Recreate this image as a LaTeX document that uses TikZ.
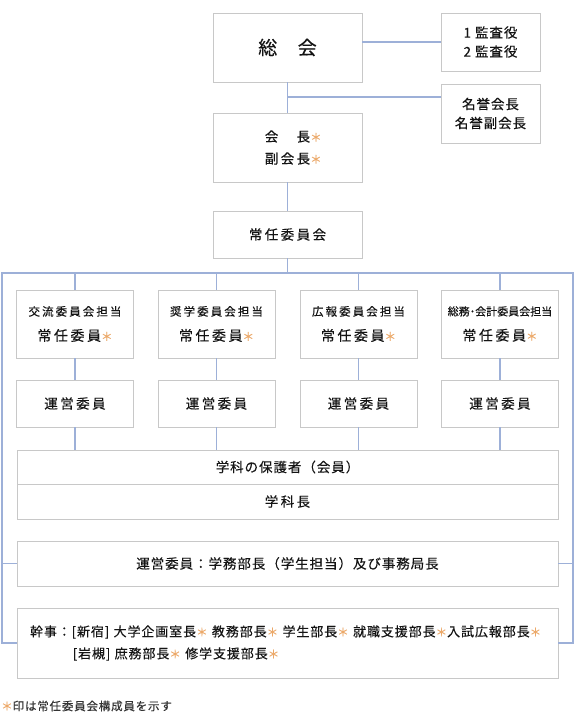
\documentclass[tikz,border=0pt]{standalone}
\usepackage{fontspec}
\setmainfont[FakeBold=0.3]{Noto Sans CJK JP}
\newfontfamily\jpw[LetterSpace=18, FakeBold=0.3]{Noto Sans CJK JP}
\newfontfamily\jpn[LetterSpace=7, FakeBold=0.3]{Noto Sans CJK JP}
\newfontfamily\jpk[LetterSpace=7, FakeBold=0.3]{Noto Sans CJK JP}
\newfontfamily\jpz[FakeBold=0.3]{Noto Sans CJK JP}
\usetikzlibrary{calc}
\usetikzlibrary{shadows}
\definecolor{linecol}{RGB}{157,176,216}
\definecolor{boxcol}{RGB}{200,200,200}
\definecolor{komecol}{RGB}{236,168,104}
\definecolor{txtcol}{RGB}{20,20,20}
\newcommand{\kome}{{\color{komecol}\fontsize{11.5}{11}\selectfont ＊}}
\tikzset{
  box/.style={draw=boxcol, line width=0.9pt, fill=white, inner sep=0pt, align=center, text=txtcol,
    font=\jpw\fontsize{13.5}{19}\selectfont,
    drop shadow={opacity=0.15, shadow xshift=0.8pt, shadow yshift=-0.8pt}},
  colbox/.style={box, minimum width=117pt, minimum height=68pt},
  uneibox/.style={box, minimum width=117pt, minimum height=47pt},
  widebox/.style={box, minimum width=541pt},
  conn/.style={draw=linecol, line width=1.7pt}
}

\begin{document}
\begin{tikzpicture}[x=1pt, y=-1pt]
\useasboundingbox (0,0) rectangle (575,717);

\node[box, minimum width=149pt, minimum height=69pt, font=\jpz\fontsize{19}{19}\selectfont] (soukai) at (287.5,47.5) {総\hspace{20.5pt}会};
\node[box, minimum width=99pt, minimum height=58pt, font=\jpn\fontsize{13.5}{19}\selectfont] (kansa) at (490.5,42) {1 監査役\\2 監査役};
\node[box, minimum width=99pt, minimum height=59pt, font=\jpn\fontsize{13.5}{19}\selectfont] (meiyo) at (490.5,113.5) {名誉会長\\名誉副会長};
\node[box, minimum width=149pt, minimum height=69pt, font=\jpw\fontsize{13.5}{22}\selectfont] (kaicho) at (287.5,147.5) {会　長\rlap{\kome}\\副会長\rlap{\kome}};
\node[box, minimum width=149pt, minimum height=47pt, font=\jpw\fontsize{13.5}{19}\selectfont] (jonin) at (287.5,234.5) {常任委員会};

\foreach \i/\x/\lbl in {1/75/交流委員会担当, 2/216.5/奨学委員会担当, 3/358.5/広報委員会担当, 4/500/{\jpz\fontsize{11}{14}\selectfont 総務･会計委員会担当}} {
  \node[colbox, font=\jpw\fontsize{14}{19}\selectfont] (tan\i) at (\x,324) {{\fontsize{11.5}{14}\selectfont \lbl}\\[6pt]常任委員\kome};
  \node[uneibox] (unei\i) at (\x,403.5) {運営委員};
}

\node[widebox, minimum height=34pt, font=\jpn\fontsize{13.5}{19}\selectfont] (gakka) at (287.5,467) {学科の保護者（会員）};
\node[widebox, minimum height=35pt] (gakkacho) at (287.5,501.5) {学科長};
\node[widebox, minimum height=45pt, font=\jpn\fontsize{13.5}{19}\selectfont] (uneiall) at (287.5,563.5) {運営委員：学務部長（学生担当）及び事務局長};
\node[widebox, minimum height=70pt, text width=525pt, align=left, inner xsep=8pt, font=\jpk\fontsize{13}{22}\selectfont] (kanji) at (287.5,643) {\hspace*{5pt}幹事：[新宿] 大学企画室長\kome{} 教務部長\kome{} 学生部長\kome{} 就職支援部長\kome 入試広報部長\kome\\\hspace*{7pt}\phantom{幹事：}[岩槻] 庶務部長\kome{} 修学支援部長\kome};

\node[anchor=west, inner sep=0pt, font=\jpn\fontsize{11.5}{14}\selectfont, text=black!80] (note) at (1,706) {\kome 印は常任委員会構成員を示す};

\coordinate (busL) at (2,273);
\coordinate (busR) at (573,273);
\coordinate (br) at (287.5,97);

\draw[conn] (soukai.east |- kansa.west) -- (kansa.west);
\draw[conn] (soukai) -- (kaicho);
\draw[conn] (br) -- (br -| meiyo.west);
\draw[conn] (kaicho) -- (jonin);
\draw[conn] (jonin) -- (jonin |- busL);
\draw[conn] (kanji.west) -| (busL) -- (busR) |- (kanji.east);
\draw[conn] (uneiall.west) -- (uneiall.west -| busL);
\draw[conn] (uneiall.east) -- (uneiall.east -| busR);
\foreach \i in {1,...,4} {
  \draw[conn] (tan\i) -- (tan\i |- busL);
  \draw[conn] (tan\i) -- (unei\i);
  \draw[conn] (unei\i) -- (unei\i |- gakka.north);
}

\end{tikzpicture}
\end{document}
